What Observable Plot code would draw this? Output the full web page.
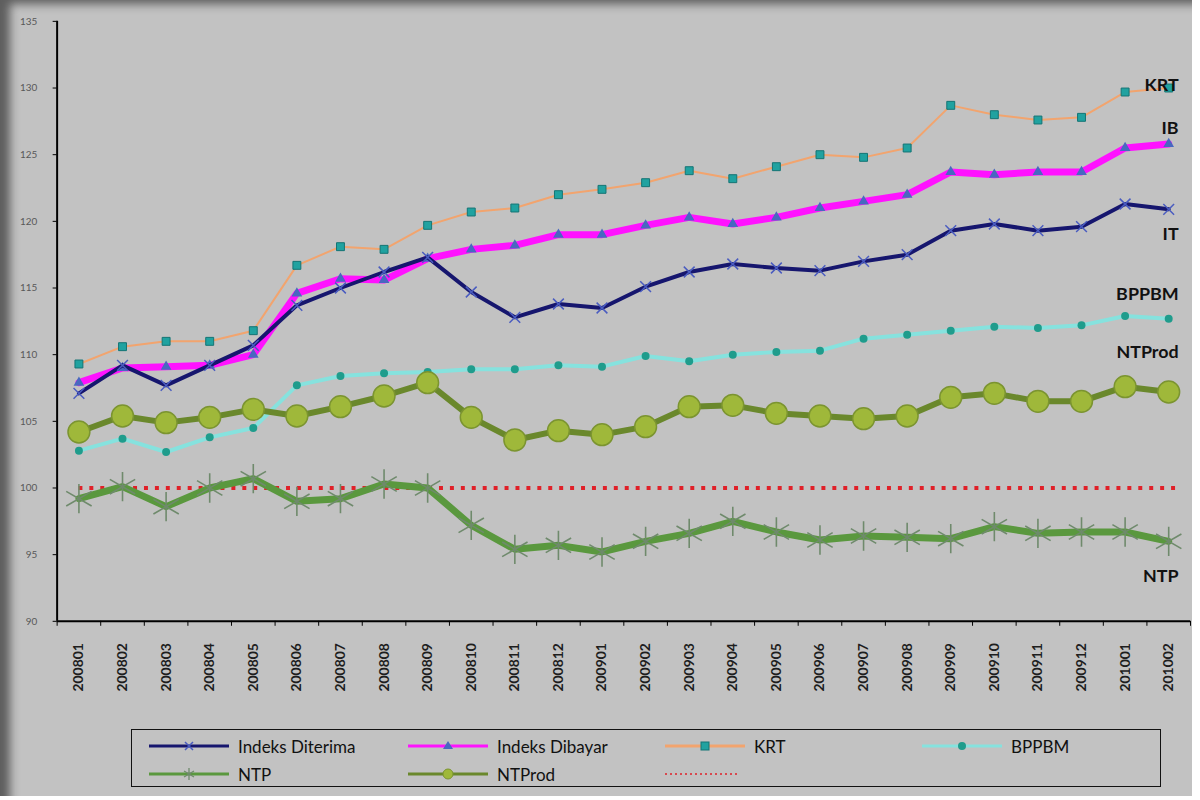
<!DOCTYPE html>
<html>
<head>
<meta charset="utf-8">
<script src="https://cdn.jsdelivr.net/npm/d3@7"></script>
<script src="https://cdn.jsdelivr.net/npm/@observablehq/plot@0.6"></script>
<style>
  html, body { margin: 0; padding: 0; background: #ffffff; }
  #frame {
    position: relative; width: 1192px; height: 796px;
    background: #c2c2c2;
    box-shadow: inset 16px 10px 10px -6px #5e5e5e;
    overflow: hidden;
    font-family: Lato, "Open Sans", sans-serif;
  }
  #chart { position: absolute; left: 0; top: 0; }
  #chart svg { background: transparent; }
  #chart g[aria-label="x-axis tick label"] text { font-weight: bold; }
  #legend {
    position: absolute; left: 131px; top: 729px; width: 1030px; height: 58px;
    border: 1.5px solid #111; box-sizing: border-box;
  }
  .item { position: absolute; display: flex; align-items: center; height: 22px; font-size: 17px; color: #111; }
  .item svg { margin-right: 9px; }
</style>
</head>
<body>
<div id="frame">
  <div id="chart"></div>
  <div id="legend"></div>
</div>
<script>
const periods = ["200801","200802","200803","200804","200805","200806","200807","200808","200809","200810","200811","200812",
                 "200901","200902","200903","200904","200905","200906","200907","200908","200909","200910","200911","200912",
                 "201001","201002"];
const indeksDiterima = [107.1,109.2,107.7,109.2,110.7,113.7,115.0,116.2,117.3,114.7,112.8,113.8,113.5,115.1,116.2,116.8,116.5,116.3,117.0,117.5,119.3,119.8,119.3,119.6,121.3,120.9];
const indeksDibayar = [107.9,109.0,109.1,109.2,110.0,114.6,115.7,115.6,117.2,117.9,118.2,119.0,119.0,119.7,120.3,119.8,120.3,121.0,121.5,122.0,123.7,123.5,123.7,123.7,125.5,125.8];
const krt = [109.3,110.6,111.0,111.0,111.8,116.7,118.1,117.9,119.7,120.7,121.0,122.0,122.4,122.9,123.8,123.2,124.1,125.0,124.8,125.5,128.7,128.0,127.6,127.8,129.7,130.0];
const bppbm = [102.8,103.7,102.7,103.8,104.5,107.7,108.4,108.6,108.7,108.9,108.9,109.2,109.1,109.9,109.5,110.0,110.2,110.3,111.2,111.5,111.8,112.1,112.0,112.2,112.9,112.7];
const ntp = [99.2,100.1,98.6,100.0,100.7,99.0,99.2,100.3,100.0,97.2,95.4,95.7,95.2,96.0,96.6,97.5,96.7,96.1,96.4,96.3,96.2,97.1,96.6,96.7,96.7,96.0];
const ntprod = [104.2,105.4,104.9,105.3,105.9,105.4,106.1,106.9,107.9,105.3,103.6,104.3,104.0,104.6,106.1,106.2,105.6,105.4,105.2,105.4,106.8,107.1,106.5,106.5,107.6,107.2];
const baseline = 100;
const yTicks = [90,95,100,105,110,115,120,125,130,135];
const endLabels = ["KRT","IB","IT","BPPBM","NTProd","NTP"];
const endLabelY = [130.2,127.0,119.0,114.5,110.2,93.4];
const legendNames = ["Indeks Diterima","Indeks Dibayar","KRT","BPPBM","NTP","NTProd",""];

const rows = arr => arr.map((v, i) => ({i: i + 0.5, v}));
const n = periods.length;

const chart = Plot.plot({
  width: 1200, height: 720,
  marginLeft: 57, marginRight: 2, marginTop: 21, marginBottom: 95,
  x: {domain: [0, n], axis: null},
  y: {domain: [90, 135], axis: null},
  style: {background: "transparent", fontFamily: "Lato, 'Open Sans', sans-serif"},
  marks: [
    // axes
    Plot.axisY({ticks: yTicks, tickSize: 4, tickPadding: 16, fontSize: 10, stroke: "#000", fill: "#585858", label: null}),
    Plot.axisX({ticks: d3.range(0, n + 1), tickSize: 5, tickFormat: () => "", stroke: "#000", label: null}),
    Plot.axisX({ticks: periods.map((p, i) => i + 0.5), tickFormat: v => periods[Math.round(v - 0.5)], tickRotate: -90,
                tickSize: 0, tickPadding: 22, fontSize: 14, fill: "#1e1e1e", label: null}),
    Plot.ruleX([0], {stroke: "#000", strokeWidth: 2}),
    Plot.ruleY([90], {stroke: "#000", strokeWidth: 2}),
    // reference line at 100
    Plot.ruleY([baseline], {x1: 0.5, x2: n - 0.3, stroke: "#e02028", strokeWidth: 4, strokeDasharray: "4 7"}),
    // KRT
    Plot.line(rows(krt), {x: "i", y: "v", stroke: "#f2a46e", strokeWidth: 2}),
    Plot.dot(rows(krt), {x: "i", y: "v", symbol: "square", r: 4.5, fill: "#20a2a0", stroke: "#137474", strokeWidth: 1}),
    // BPPBM
    Plot.line(rows(bppbm), {x: "i", y: "v", stroke: "#86e2de", strokeWidth: 4}),
    Plot.dot(rows(bppbm), {x: "i", y: "v", r: 4, fill: "#1f9c8c"}),
    // Indeks Dibayar
    Plot.line(rows(indeksDibayar), {x: "i", y: "v", stroke: "#ff12ff", strokeWidth: 7}),
    Plot.dot(rows(indeksDibayar), {x: "i", y: "v", symbol: "triangle", r: 4, fill: "#4868c0"}),
    // Indeks Diterima
    Plot.line(rows(indeksDiterima), {x: "i", y: "v", stroke: "#16166e", strokeWidth: 4}),
    Plot.dot(rows(indeksDiterima), {x: "i", y: "v", symbol: "times", r: 5, stroke: "#4a5cc0", strokeWidth: 1.5}),
    // NTProd
    Plot.line(rows(ntprod), {x: "i", y: "v", stroke: "#6a882c", strokeWidth: 6}),
    Plot.dot(rows(ntprod), {x: "i", y: "v", r: 11, fill: "#9fb83a", stroke: "#7b9430", strokeWidth: 1.5}),
    // NTP
    Plot.line(rows(ntp), {x: "i", y: "v", stroke: "#5a983e", strokeWidth: 7}),
    Plot.dot(rows(ntp), {x: "i", y: "v", symbol: "asterisk", r: 14, stroke: "#6f8a6c", strokeWidth: 1.6}),
    // end labels
    Plot.text(endLabels, {x: n - 0.5, y: (d, i) => endLabelY[i], text: d => d, textAnchor: "end", dx: 10,
      fontSize: 18, fontWeight: "bold", fill: "#111"})
  ]
});
document.getElementById("chart").appendChild(chart);

// Legend (HTML)
const legendStyles = [
  {stroke: "#16166e", w: 3, mark: "times", mc: "#4a5cc0"},
  {stroke: "#ff12ff", w: 3, mark: "triangle", mc: "#4868c0"},
  {stroke: "#f2a46e", w: 3, mark: "square", mc: "#20a2a0"},
  {stroke: "#86e2de", w: 3, mark: "circle", mc: "#1f9c8c"},
  {stroke: "#5a983e", w: 3, mark: "asterisk", mc: "#6f8a6c"},
  {stroke: "#6a882c", w: 3, mark: "bigcircle", mc: "#9fb83a"},
  {stroke: "#e02028", w: 3, mark: "dots", mc: "#e02028"}
];
const legendPos = [[17, 5], [276, 5], [533, 5], [790, 5], [17, 33], [276, 33], [533, 33]];
const legend = document.getElementById("legend");
legendNames.forEach((name, k) => {
  const s = legendStyles[k];
  const div = document.createElement("div");
  div.className = "item";
  div.style.left = legendPos[k][0] + "px";
  div.style.top = legendPos[k][1] + "px";
  let sym = "";
  if (s.mark === "times") sym = `<path d="M36,7 L44,15 M44,7 L36,15" stroke="${s.mc}" stroke-width="1.5"/>`;
  if (s.mark === "triangle") sym = `<path d="M40,6 L45,14 L35,14 Z" fill="${s.mc}"/>`;
  if (s.mark === "square") sym = `<rect x="36" y="7" width="8" height="8" fill="${s.mc}" stroke="#137474"/>`;
  if (s.mark === "circle") sym = `<circle cx="40" cy="11" r="4" fill="${s.mc}"/>`;
  if (s.mark === "asterisk") sym = `<path d="M40,5 L40,17 M35,8 L45,14 M45,8 L35,14" stroke="${s.mc}" stroke-width="1.3"/>`;
  if (s.mark === "bigcircle") sym = `<circle cx="40" cy="11" r="5" fill="${s.mc}" stroke="#7b9430"/>`;
  const line = s.mark === "dots"
    ? `<line x1="0" y1="11" x2="75" y2="11" stroke="${s.stroke}" stroke-width="2" stroke-dasharray="2 3" opacity="0.75"/>`
    : `<line x1="0" y1="11" x2="80" y2="11" stroke="${s.stroke}" stroke-width="${s.w}"/>`;
  div.innerHTML = `<svg width="80" height="22">${line}${sym}</svg><span>${name}</span>`;
  legend.appendChild(div);
});
</script>
</body>
</html>
